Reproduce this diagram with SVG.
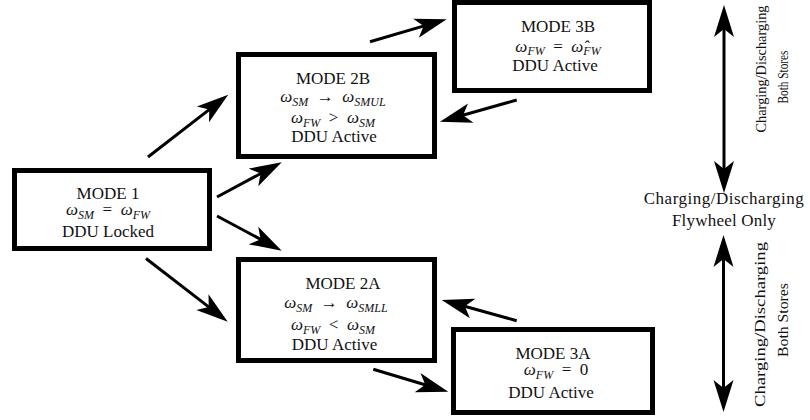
<svg xmlns="http://www.w3.org/2000/svg" width="810" height="420" viewBox="0 0 810 420">
  <style>
    .box { fill: #fff; stroke: #000; stroke-width: 5; }
    .t { font-family: "Liberation Serif", "Times New Roman", serif; font-size: 17px; fill: #111; text-anchor: middle; }
    .i { font-style: italic; }
    .s { font-style: italic; font-size: 12px; }
    .r { font-family: "Liberation Serif", "Times New Roman", serif; font-size: 15px; fill: #111; text-anchor: middle; }
    .arr { stroke: #000; stroke-width: 3; fill: none; marker-end: url(#ah); }
    .dbl { stroke: #000; stroke-width: 3; fill: none; marker-start: url(#ah); marker-end: url(#ah); }
  </style>
  <defs>
    <marker id="ah" viewBox="0 -11 34 22" refX="12" refY="0" markerWidth="34" markerHeight="22" markerUnits="userSpaceOnUse" orient="auto-start-reverse">
      <path d="M0,-10 L32,0 L0,10 L8,0 Z" fill="#000"/>
    </marker>
  </defs>
  <rect width="810" height="420" fill="#fff"/>

  <!-- transitions between modes -->
  <g id="connectors">
    <line class="arr" x1="148" y1="157" x2="212.4" y2="107.1"/>
    <line class="arr" x1="217" y1="197" x2="264.1" y2="171.7"/>
    <line class="arr" x1="217" y1="216" x2="264.1" y2="241.2"/>
    <line class="arr" x1="146" y1="258.5" x2="211.9" y2="309.4"/>
    <line class="arr" x1="370" y1="41.7" x2="427.5" y2="24.9"/>
    <line class="arr" x1="516.7" y1="100" x2="459.2" y2="116.3"/>
    <line class="arr" x1="373.3" y1="369.3" x2="429.1" y2="386"/>
    <line class="arr" x1="516.7" y1="320.7" x2="461" y2="305.3"/>
    <!-- energy flow scale -->
    <line class="dbl" x1="724" y1="25" x2="724" y2="173"/>
    <line class="dbl" x1="723.5" y1="255" x2="723.5" y2="392"/>
  </g>

  <g id="mode1">
    <rect class="box" x="14.5" y="170.5" width="195" height="78"/>
    <text class="t" x="108" y="199">MODE 1</text>
    <text class="t" x="108" y="215"><tspan class="i">ω</tspan><tspan class="s" dy="3.5">SM</tspan><tspan dy="-3.5">&#8194;=&#8194;</tspan><tspan class="i">ω</tspan><tspan class="s" dy="3.5">FW</tspan></text>
    <text class="t" x="108" y="237">DDU Locked</text>
  </g>

  <g id="mode2b">
    <rect class="box" x="238.5" y="54.5" width="196" height="102"/>
    <text class="t" x="333" y="84">MODE 2B</text>
    <text class="t" x="333" y="102"><tspan class="i">ω</tspan><tspan class="s" dy="3.5">SM</tspan><tspan dy="-3.5">&#8194;→&#8194;</tspan><tspan class="i">ω</tspan><tspan class="s" dy="3.5">SMUL</tspan></text>
    <text class="t" x="333" y="123"><tspan class="i">ω</tspan><tspan class="s" dy="3.5">FW</tspan><tspan dy="-3.5">&#8194;&gt;&#8194;</tspan><tspan class="i">ω</tspan><tspan class="s" dy="3.5">SM</tspan></text>
    <text class="t" x="334" y="141.5">DDU Active</text>
  </g>

  <g id="mode2a">
    <rect class="box" x="238.5" y="259.5" width="196" height="101"/>
    <text class="t" x="343" y="288.5">MODE 2A</text>
    <text class="t" x="336" y="308"><tspan class="i">ω</tspan><tspan class="s" dy="3.5">SM</tspan><tspan dy="-3.5">&#8194;→&#8194;</tspan><tspan class="i">ω</tspan><tspan class="s" dy="3.5">SMLL</tspan></text>
    <text class="t" x="333" y="330"><tspan class="i">ω</tspan><tspan class="s" dy="3.5">FW</tspan><tspan dy="-3.5">&#8194;&lt;&#8194;</tspan><tspan class="i">ω</tspan><tspan class="s" dy="3.5">SM</tspan></text>
    <text class="t" x="334.5" y="349.5">DDU Active</text>
  </g>

  <g id="mode3b">
    <rect class="box" x="454.5" y="2.5" width="195" height="88"/>
    <text class="t" x="558" y="32">MODE 3B</text>
    <text class="t" x="558" y="51.5"><tspan class="i">ω</tspan><tspan class="s" dy="3.5">FW</tspan><tspan dy="-3.5">&#8194;=&#8194;</tspan><tspan class="i">ω&#770;</tspan><tspan class="s" dy="3.5">FW</tspan></text>
    <text class="t" x="555" y="71">DDU Active</text>
  </g>

  <g id="mode3a">
    <rect class="box" x="453.5" y="329.5" width="199" height="83"/>
    <text class="t" x="553" y="358.5">MODE 3A</text>
    <text class="t" x="556" y="375"><tspan class="i">ω</tspan><tspan class="s" dy="3.5">FW</tspan><tspan dy="-3.5">&#8194;=&#8194;0</tspan></text>
    <text class="t" x="551" y="397.5">DDU Active</text>
  </g>

  <g id="scale-labels">
    <text class="t" x="724" y="204" letter-spacing="0.5">Charging/Discharging</text>
    <text class="t" x="724" y="225.5" letter-spacing="0.2">Flywheel Only</text>
    <text class="r" transform="translate(766 69) rotate(-90)" textLength="127" lengthAdjust="spacingAndGlyphs">Charging/Discharging</text>
    <text class="r" transform="translate(787.5 77) rotate(-90)" textLength="53" lengthAdjust="spacingAndGlyphs">Both Stores</text>
    <text class="r" transform="translate(764.5 324.5) rotate(-90)" textLength="165" lengthAdjust="spacingAndGlyphs">Charging/Discharging</text>
    <text class="r" transform="translate(788 320) rotate(-90)" textLength="74" lengthAdjust="spacingAndGlyphs">Both Stores</text>
  </g>
</svg>
